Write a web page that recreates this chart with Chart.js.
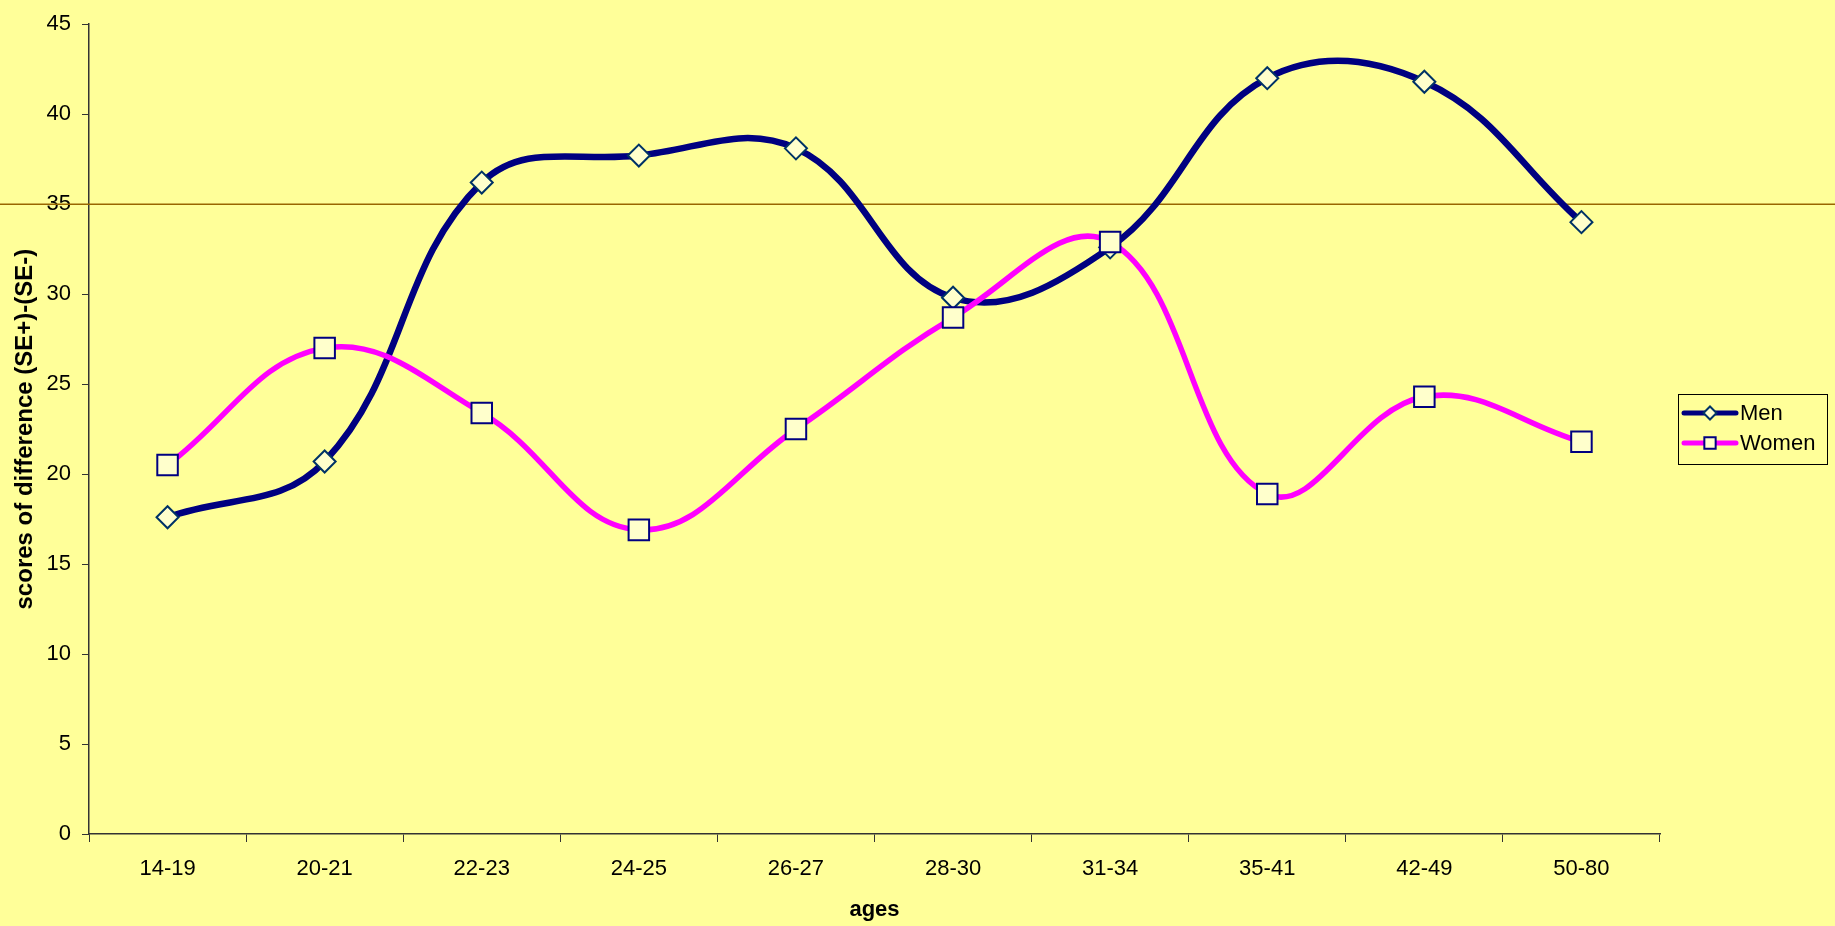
<!DOCTYPE html>
<html>
<head>
<meta charset="utf-8">
<title>Scores of difference by age</title>
<script src="https://cdn.jsdelivr.net/npm/chart.js@4.4.1/dist/chart.umd.min.js"></script>
<style>
  html, body { margin: 0; padding: 0; background: #FFFF99; }
  #wrap { position: relative; width: 1835px; height: 926px; }
</style>
</head>
<body>
<div id="wrap"><canvas id="chart"></canvas></div>
<script>
// Age groups on the horizontal axis
const ageGroups = ['14-19', '20-21', '22-23', '24-25', '26-27', '28-30', '31-34', '35-41', '42-49', '50-80'];

// Scores of difference (SE+)-(SE-) per age group
const menScores   = [17.6, 20.7, 36.2, 37.7, 38.1, 29.8, 32.6, 42.0, 41.8, 34.0];
const womenScores = [20.5, 27.0, 23.4, 16.9, 22.5, 28.7, 32.9, 18.9, 24.3, 21.8];

// Value axis range and step
const yMin = 0;
const yMax = 45;
const yStep = 5;

// Horizontal reference level
const referenceLevel = 35;

const FONT = "'Liberation Sans', Arial, sans-serif";

// Full-width reference line, drawn beneath the series
const referenceLine = {
  id: 'referenceLine',
  beforeDatasetsDraw(chart) {
    const ctx = chart.ctx;
    const y = chart.scales.y.getPixelForValue(referenceLevel);
    ctx.save();
    ctx.strokeStyle = '#996600';
    ctx.lineWidth = 1.5;
    ctx.beginPath();
    ctx.moveTo(0, y);
    ctx.lineTo(chart.width, y);
    ctx.stroke();
    ctx.restore();
  }
};

// Boxed legend with a line-and-marker sample for each series
const boxLegend = {
  id: 'boxLegend',
  afterDraw(chart) {
    const ctx = chart.ctx;
    const area = chart.chartArea;
    const w = 149, h = 70;
    const x0 = Math.round(area.right + 18);
    const y0 = Math.round((area.top + area.bottom) / 2 - h / 2);
    ctx.save();
    ctx.strokeStyle = '#000000';
    ctx.lineWidth = 1;
    ctx.strokeRect(x0 + 0.5, y0 + 0.5, w, h);
    const markerRadius = [6.5, 8];
    chart.data.datasets.forEach((ds, i) => {
      const cy = y0 + 19 + i * 30;
      const lx = x0 + 6;
      ctx.strokeStyle = ds.borderColor;
      ctx.lineWidth = 5;
      ctx.lineCap = 'round';
      ctx.beginPath();
      ctx.moveTo(lx, cy);
      ctx.lineTo(lx + 52, cy);
      ctx.stroke();
      ctx.lineCap = 'butt';
      ctx.fillStyle = ds.pointBackgroundColor;
      ctx.strokeStyle = ds.pointBorderColor;
      ctx.lineWidth = 2;
      Chart.helpers.drawPoint(ctx, {
        pointStyle: ds.pointStyle,
        radius: markerRadius[i],
        rotation: 0,
        borderWidth: 2
      }, lx + 26, cy);
      ctx.fillStyle = '#000000';
      ctx.font = '22px ' + FONT;
      ctx.textAlign = 'left';
      ctx.textBaseline = 'middle';
      ctx.fillText(ds.label, lx + 56, cy + 1);
    });
    ctx.restore();
  }
};

new Chart(document.getElementById('chart'), {
  type: 'line',
  data: {
    labels: ageGroups,
    datasets: [
      {
        label: 'Men',
        data: menScores,
        borderColor: '#000080',
        borderWidth: 6.5,
        tension: 0.4,
        pointStyle: 'rectRot',
        pointRadius: 11,
        pointBorderWidth: 2,
        pointBackgroundColor: '#FFFFCC',
        pointBorderColor: '#003366',
        order: 1
      },
      {
        label: 'Women',
        data: womenScores,
        borderColor: '#FF00FF',
        borderWidth: 5.5,
        tension: 0.4,
        pointStyle: 'rect',
        pointRadius: 14.5,
        pointBorderWidth: 2,
        pointBackgroundColor: '#FFFFCC',
        pointBorderColor: '#000080',
        order: 0
      }
    ]
  },
  options: {
    responsive: true,
    maintainAspectRatio: false,
    animation: false,
    events: [],
    layout: { padding: { left: 0, top: 21, right: 175, bottom: 0 } },
    plugins: {
      legend: { display: false },
      tooltip: { enabled: false }
    },
    scales: {
      x: {
        offset: true,
        grid: {
          display: true,
          offset: true,
          drawOnChartArea: false,
          drawTicks: true,
          tickLength: 8,
          color: '#333333',
          lineWidth: 1
        },
        border: { display: true, color: '#333333', width: 1.5 },
        ticks: {
          color: '#000000',
          font: { family: FONT, size: 22 },
          padding: 14,
          maxRotation: 0,
          autoSkip: false
        },
        title: {
          display: true,
          text: 'ages',
          color: '#000000',
          font: { family: FONT, size: 22, weight: 'bold', lineHeight: 1.2 },
          padding: { top: 0, bottom: 3 }
        },
        afterFit(scale) { scale.height = 92; }
      },
      y: {
        min: yMin,
        max: yMax,
        grid: {
          display: true,
          drawOnChartArea: false,
          drawTicks: true,
          tickLength: 7,
          color: '#333333',
          lineWidth: 1
        },
        border: { display: true, color: '#333333', width: 1.5 },
        ticks: {
          stepSize: yStep,
          color: '#000000',
          font: { family: FONT, size: 22 },
          padding: 11
        },
        title: {
          display: true,
          text: 'scores of difference (SE+)-(SE-)',
          color: '#000000',
          font: { family: FONT, size: 24, weight: 'bold', lineHeight: 1.2 },
          padding: { top: 10.6, bottom: 0 }
        },
        afterFit(scale) { scale.width = 89; }
      }
    }
  },
  plugins: [referenceLine, boxLegend]
});
</script>
</body>
</html>
